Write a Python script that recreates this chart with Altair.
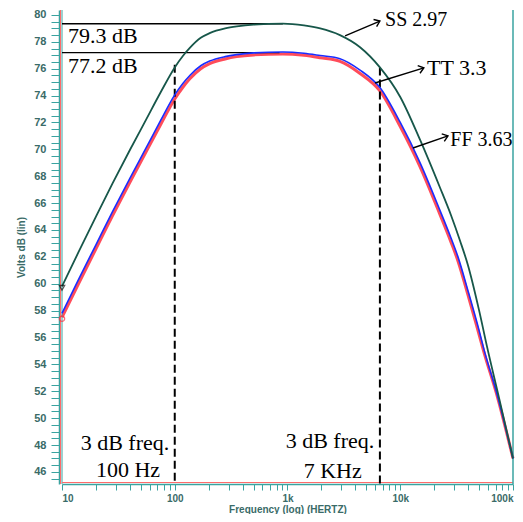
import altair as alt
import pandas as pd

# ---- curve data (frequency in Hz, level in dB) ----
ss_f = [10, 14, 20, 28, 40, 56, 75, 100, 118, 136, 170, 204, 280, 355, 500, 910,
        1400, 1950, 2920, 4400, 6600, 10000, 15000, 22400, 28200, 33900, 39800,
        50100, 58900, 75200, 100000]
ss_db = [59.8, 62.35, 65.0, 67.45, 69.95, 72.25, 74.25, 76.1, 76.95, 77.55, 78.3,
         78.65, 79.0, 79.15, 79.28, 79.35, 79.22, 79.0, 78.5, 77.6, 76.1, 73.9, 70.7,
         67.2, 65.1, 63.2, 61.4, 58.0, 55.3, 51.5, 47.0]

tt_f = [10, 14, 20, 28, 40, 56, 75, 100, 118, 136, 170, 204, 280, 355, 500, 910,
        1400, 1950, 2920, 4400, 6600, 10000, 15000, 22400, 28200, 32500, 39800,
        50100, 55300, 72100, 100000]
tt_db = [57.8, 60.3, 62.9, 65.35, 67.85, 70.15, 72.15, 74.05, 74.9, 75.5, 76.22, 76.57,
         76.9, 77.05, 77.18, 77.25, 77.15, 76.98, 76.75, 75.9, 74.6, 72.0, 69.0,
         65.5, 63.4, 62.0, 59.5, 56.5, 55.1, 51.8, 47.0]

ff_f = [10, 14, 20, 28, 40, 56, 75, 100, 118, 136, 170, 204, 280, 355, 500, 910,
        1400, 1950, 2920, 4400, 6600, 10000, 15000, 22400, 28200, 32500, 39800,
        50100, 55300, 72100, 100000]
ff_db = [57.5, 60.0, 62.6, 65.05, 67.55, 69.85, 71.85, 73.75, 74.62, 75.25, 76.0, 76.38,
         76.73, 76.9, 77.03, 77.1, 77.0, 76.82, 76.55, 75.65, 74.35, 71.7, 68.7,
         65.2, 63.1, 61.7, 59.2, 56.2, 54.9, 51.7, 47.0]

# ---- annotations ----
peak_levels = [79.35, 77.2]
peak_line_end = [910, 850]
peak_texts = ["79.3 dB", "77.2 dB"]
peak_text_f = [11.3, 11.3]
peak_text_db = [78.47, 76.24]

cut_f = [100, 6600]
cut_top = [76.3, 76.1]
cut_text1 = ["3 dB freq.", "3 dB freq."]
cut_text1_f = [36.2, 2380]
cut_text1_db = [48.15, 48.3]
cut_text2 = ["100 Hz", "7 KHz"]
cut_text2_f = [38.5, 2515]
cut_text2_db = [46.15, 46.1]

arrow_ids = ["SS", "TT", "FF"]
arrow_f0 = [3240, 5970, 12970]
arrow_db0 = [78.44, 74.94, 70.1]
arrow_f1 = [6600, 16200, 26500]
arrow_db1 = [79.55, 76.06, 71.0]
arrow_ang = [337, 343, 341]
label_texts = ["SS 2.97", "TT 3.3", "FF 3.63"]
label_f = [7330, 17260, 27800]
label_db = [79.64, 76.06, 70.7]
label_size = [20, 22, 20]

x_ticks = [10, 20, 30, 40, 50, 60, 70, 80, 90,
           100, 200, 300, 400, 500, 600, 700, 800, 900,
           1000, 2000, 3000, 4000, 5000, 6000, 7000, 8000, 9000,
           10000, 20000, 30000, 40000, 50000, 60000, 70000, 80000, 90000,
           100000]
y_ticks = [45.5 + 0.5 * i for i in range(70)]

X_DOMAIN = [10, 100000]
Y_DOMAIN = [45.1, 80.37]
W, H = 451, 474

AX_COL = "#3a6b68"
TEAL = "#3aa3a0"
RED = "#ff6b6b"
SERIF = "Liberation Serif"

xscale = alt.Scale(type="log", domain=X_DOMAIN, nice=False)
yscale = alt.Scale(domain=Y_DOMAIN, nice=False, zero=False)

x_axis = alt.Axis(
    values=x_ticks, format="~s",
    labelExpr="indexof([10,100,1000,10000,100000], datum.value) >= 0 ? datum.label : ''",
    labelFlush=True, labelOverlap=False, grid=False,
    domainColor=TEAL, domainWidth=1.5, tickColor=TEAL, tickSize=6, tickWidth=1,
    labelColor=AX_COL, labelFont="Liberation Sans", labelFontWeight="bold", labelFontSize=10,
    labelPadding=3,
    title="Frequency (log) (HERTZ)", titleColor=AX_COL, titleFont="Liberation Sans",
    titleFontWeight="bold", titleFontSize=10, titlePadding=1,
)
y_axis = alt.Axis(
    values=y_ticks, offset=3,
    labelExpr="abs(datum.value / 2 - round(datum.value / 2)) < 0.01 ? format(datum.value, 'd') : ''",
    labelOverlap=False, labelBound=False, grid=False,
    domainColor=TEAL, domainWidth=1.5, tickColor=TEAL, tickSize=8, tickWidth=1,
    labelColor=AX_COL, labelFont="Liberation Sans", labelFontWeight="bold", labelFontSize=11,
    labelPadding=5,
    title="Volts dB (lin)", titleColor=AX_COL, titleFont="Liberation Sans",
    titleFontWeight="bold", titleFontSize=10, titlePadding=7,
)

X = alt.X("f:Q", scale=xscale, axis=x_axis)
Y = alt.Y("db:Q", scale=yscale, axis=y_axis)

def curve_df(fs, dbs):
    return pd.DataFrame({"f": fs, "db": dbs})

ff_line = alt.Chart(curve_df(ff_f, ff_db)).mark_line(
    color="#ff2d3d", strokeWidth=3, interpolate="monotone", opacity=0.85
).encode(x=X, y=Y)
tt_line = alt.Chart(curve_df(tt_f, tt_db)).mark_line(
    color="#1a2cff", strokeWidth=1.6, interpolate="monotone"
).encode(x=X, y=Y)
ss_line = alt.Chart(curve_df(ss_f, ss_db)).mark_line(
    color="#17574a", strokeWidth=1.8, interpolate="monotone"
).encode(x=X, y=Y)

start_marks = alt.Chart(pd.DataFrame({
    "f": [10, 10], "db": [57.4, 59.7], "c": ["#ff2d3d", "#111111"],
    "s": ["circle", "triangle-down"]
})).mark_point(size=28, strokeWidth=1.3, filled=False).encode(
    x=X, y=Y, color=alt.Color("c:N", scale=None), shape=alt.Shape("s:N", scale=None)
)

# peak level lines
peak_df = pd.DataFrame({"f": [10, 10], "f2": peak_line_end, "db": peak_levels})
peak_rules = alt.Chart(peak_df).mark_rule(color="black", strokeWidth=1.4).encode(
    x=X, x2="f2:Q", y=Y
)
peak_text = alt.Chart(pd.DataFrame({"f": peak_text_f, "db": peak_text_db, "t": peak_texts})).mark_text(
    font=SERIF, fontSize=22, align="left", baseline="middle", color="black"
).encode(x=X, y=Y, text="t:N")

# 3 dB cut-off lines
cut_df = pd.DataFrame({"f": cut_f, "db": cut_top, "db2": [Y_DOMAIN[0]] * 2})
cut_rules = alt.Chart(cut_df).mark_rule(color="black", strokeWidth=2, strokeDash=[8, 4]).encode(
    x=X, y=Y, y2="db2:Q"
)
cut_t1 = alt.Chart(pd.DataFrame({"f": cut_text1_f, "db": cut_text1_db, "t": cut_text1})).mark_text(
    font=SERIF, fontSize=22, align="center", baseline="middle", color="black"
).encode(x=X, y=Y, text="t:N")
cut_t2 = alt.Chart(pd.DataFrame({"f": cut_text2_f, "db": cut_text2_db, "t": cut_text2})).mark_text(
    font=SERIF, fontSize=22, align="center", baseline="middle", color="black"
).encode(x=X, y=Y, text="t:N")

# arrows
arrow_df = pd.DataFrame({
    "id": arrow_ids * 2,
    "f": arrow_f0 + arrow_f1,
    "db": arrow_db0 + arrow_db1,
    "o": [0] * 3 + [1] * 3,
})
arrow_lines = alt.Chart(arrow_df).mark_line(color="black", strokeWidth=1.4).encode(
    x=X, y=Y, detail="id:N", order="o:Q"
)
head_df = pd.DataFrame({"f": arrow_f1, "db": arrow_db1, "ang": arrow_ang})
arrow_heads = alt.Chart(head_df).mark_point(
    shape="M -1 -0.75 L 0 0 L -1 0.75", filled=False, size=110, color="black",
    strokeWidth=1.4, opacity=1
).encode(x=X, y=Y, angle=alt.Angle("ang:Q", scale=None))
arrow_text = alt.Chart(pd.DataFrame({"f": label_f, "db": label_db, "t": label_texts,
                                     "sz": label_size})).mark_text(
    font=SERIF, align="left", baseline="middle", color="black"
).encode(x=X, y=Y, text="t:N", size=alt.Size("sz:Q", scale=None))

# frame decorations (double axis lines, right border)
frame_df = pd.DataFrame({"k": [0]})
red_left = alt.Chart(frame_df).mark_rule(color=RED, strokeWidth=1).encode(
    x=alt.value(-1.5), y=alt.value(0), y2=alt.value(H))
teal_left = alt.Chart(frame_df).mark_rule(color=TEAL, strokeWidth=1).encode(
    x=alt.value(0), y=alt.value(0), y2=alt.value(H))
red_bottom = alt.Chart(frame_df).mark_rule(color=RED, strokeWidth=1).encode(
    y=alt.value(H - 1.5), x=alt.value(0), x2=alt.value(W))
right_line = alt.Chart(frame_df).mark_rule(color=TEAL, strokeWidth=1.5).encode(
    x=alt.datum(X_DOMAIN[1]), y=alt.value(0), y2=alt.value(H))

chart = alt.layer(
    ff_line, red_left, teal_left, red_bottom, right_line,
    peak_rules, cut_rules, tt_line, ss_line, start_marks,
    arrow_lines, arrow_heads, peak_text, cut_t1, cut_t2, arrow_text,
).properties(
    width=W, height=H,
    autosize=alt.AutoSizeParams(type="none"),
    padding={"left": 54, "top": 2, "right": 2, "bottom": 30},
    background="white",
).configure_view(strokeWidth=0)

chart.save("out.html", embed_options={"renderer": "svg", "actions": False})
